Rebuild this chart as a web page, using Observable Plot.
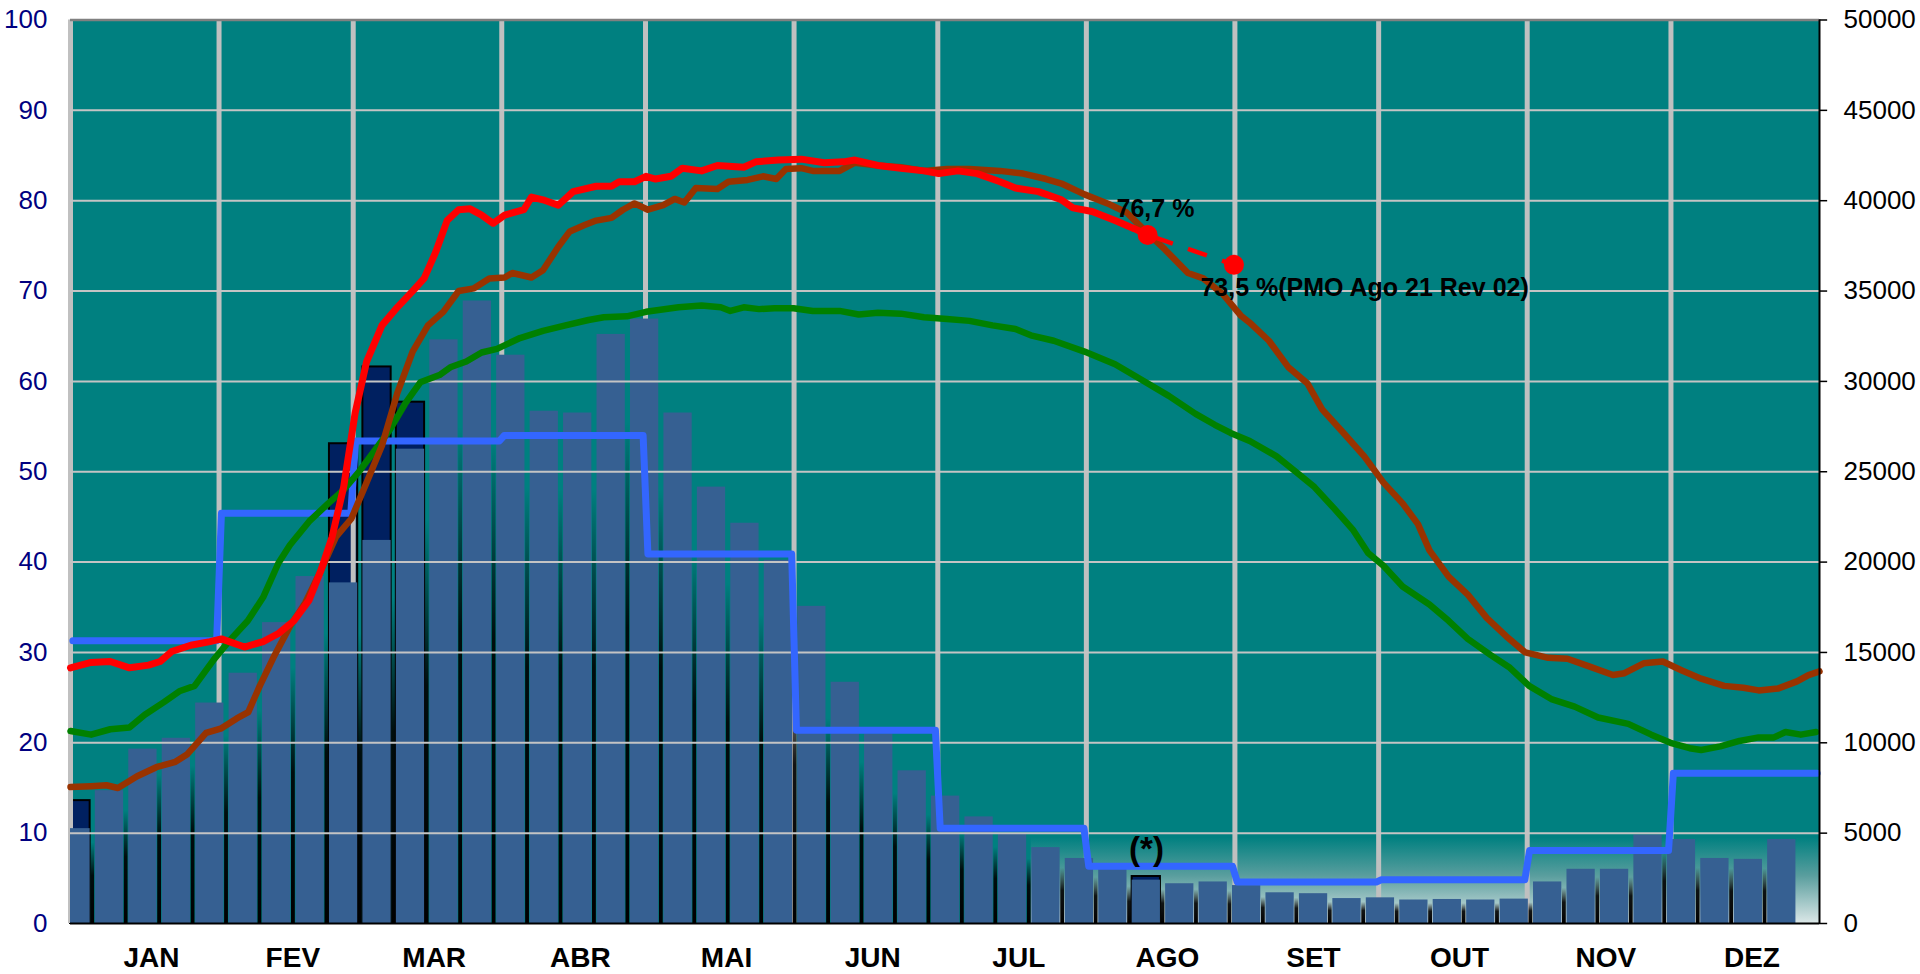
<!DOCTYPE html>
<html>
<head>
<meta charset="utf-8">
<script src="https://cdn.jsdelivr.net/npm/d3@7"></script>
<script src="https://cdn.jsdelivr.net/npm/@observablehq/plot@0.6"></script>
<style>
  html, body { margin: 0; padding: 0; background: #ffffff; }
  #chart svg { display: block; }
</style>
</head>
<body>
<div id="chart"></div>
<script>
// ---------- DATA ----------
const monthNames = ["JAN","FEV","MAR","ABR","MAI","JUN","JUL","AGO","SET","OUT","NOV","DEZ"];
const monthStarts = [0,31,59,90,120,151,181,212,243,273,304,334,365];
const leftTicks = [0,10,20,30,40,50,60,70,80,90,100];
const rightTicks = [0,5000,10000,15000,20000,25000,30000,35000,40000,45000,50000];

// Monthly long-term average inflow (MWmed) - blue step line, right axis
const enaMonthly = [15650,22700,26700,27000,20450,10700,5270,3170,2290,2420,4040,8320];

// Weekly inflow bars (MWmed), right axis
const enaWeekly = [5250,7350,9650,10250,12200,13850,16650,19200,18850,21200,
                   26250,32300,34450,31450,28350,28250,32600,33450,28250,24150,
                   22150,20100,17550,13350,10500,8450,7050,5900,4950,4200,
                   3600,3000,2400,2200,2300,2100,1700,1650,1380,1420,
                   1300,1330,1300,1350,2300,3000,3000,4900,4650,3600,
                   3550,4650];
// Dark (navy) bars visible behind the weekly bars: week index and value (MWmed)
const navyWeeks = [0, 8, 9, 10, 32];
const navyValues = [6800, 26550, 30800, 28850, 2600];

// Storage curves (% EARmax), [day of year, value]
const redSeries = [[0,28.3],[4.3,28.9],[8.3,29.0],[12.3,28.3],[16.3,28.6],[18.7,29.0],[21.1,30.1],[25.1,30.8],
  [29.1,31.2],[31.5,31.5],[36.3,30.6],[40.2,31.2],[43.4,32.1],[46.6,33.5],[49.8,35.8],[52.2,39.0],
  [54.6,42.8],[57.0,48.3],[59.4,56.5],[61.8,62.2],[65.0,66.2],[68.2,68.2],[71.4,70.0],[73.8,71.4],
  [76.2,74.3],[78.6,77.8],[81.0,79.0],[83.4,79.1],[85.8,78.4],[88.2,77.5],[90.6,78.4],[94.6,79.0],
  [96.2,80.4],[98.6,80.1],[101.8,79.5],[104.9,81.0],[109.7,81.6],[112.9,81.6],[114.5,82.1],[117.7,82.1],
  [120.1,82.7],[122.1,82.4],[125.3,82.7],[127.7,83.6],[131.7,83.3],[135,83.9],[140.5,83.7],[143,84.3],
  [147.7,84.5],[152.5,84.6],[157.3,84.2],[161.3,84.3],[163.7,84.5],[168.5,83.9],[173.3,83.6],[178.1,83.3],
  [181.2,83.0],[185.2,83.3],[189.2,83.0],[194,82.1],[197.2,81.4],[202,81.0],[206.8,80.1],[209.2,79.2],
  [213.2,78.8],[218,77.8],[222,76.9],[224.8,76.2]];

const brownSeries = [[0,15.1],[4.3,15.2],[7.5,15.3],[9.9,15.0],[13.9,16.3],[17.9,17.3],[21.9,17.9],[24.3,18.7],
  [28.3,21.1],[31.5,21.6],[34.7,22.7],[37.1,23.4],[39.5,26.3],[42.6,29.7],[45.8,32.9],[49.0,35.5],
  [52.2,39.0],[55.4,42.8],[58.6,44.8],[61.8,48.8],[65.0,52.9],[68.2,58.7],[71.4,63.3],[74.6,66.2],
  [77.8,67.7],[81.0,70.0],[84.2,70.3],[87.4,71.4],[90.6,71.5],[92.2,72.0],[96.2,71.5],[98.6,72.3],
  [101.8,74.9],[104.2,76.6],[107.3,77.3],[109.7,77.8],[112.9,78.1],[115.3,79.0],[117.7,79.7],[120.5,79.0],
  [123.7,79.5],[126.1,80.2],[128.1,79.8],[130.5,81.4],[135,81.3],[137.3,82.1],[141.3,82.3],[144.5,82.7],
  [147.3,82.4],[149.3,83.5],[152.5,83.6],[154.9,83.3],[160.5,83.3],[163.7,84.2],[168.5,83.9],[173.3,83.7],
  [178.1,83.3],[182.9,83.5],[187.6,83.5],[194,83.3],[198.8,83.0],[203.6,82.4],[206.8,81.9],[211.6,80.7],
  [216.4,79.7],[220.4,78.7],[224.4,76.6],[228.4,74.6],[233.2,72.0],[236.4,71.4],[240.4,69.7],[244.2,67.3],
  [246.1,66.5],[250.1,64.5],[254.1,61.6],[258.1,59.8],[261.2,56.9],[266,54.1],[270,51.7],[274,48.8],
  [278,46.5],[281.2,44.2],[283.6,41.3],[287.6,38.4],[291.6,36.4],[295.6,33.8],[299.6,31.8],[303.6,30.0],
  [308.4,29.4],[312.4,29.3],[317.2,28.4],[321.9,27.5],[324.3,27.7],[328.3,28.8],[332.3,29.0],[336.3,28.0],
  [340.3,27.1],[345.1,26.3],[349.1,26.1],[352.3,25.8],[356.3,26.0],[360.3,26.8],[362.7,27.5],[365,27.9]];

const greenSeries = [[0,21.3],[4.3,20.9],[8.3,21.5],[12.3,21.7],[15.5,23.1],[19.5,24.5],[22.7,25.7],[25.9,26.3],
  [29.9,29.2],[33.0,31.2],[37.0,33.5],[40.2,36.1],[43.4,39.9],[45.8,41.9],[49.8,44.5],[53.8,46.5],
  [57.0,48.0],[60.2,50.0],[63.4,52.3],[66.6,54.6],[69.8,57.5],[73.0,59.9],[77.0,60.7],[79.4,61.6],
  [82.6,62.2],[85.8,63.2],[89.0,63.6],[93.8,64.8],[98.6,65.6],[103.3,66.2],[108.1,66.8],[111.3,67.1],
  [116.1,67.2],[120.1,67.7],[126.9,68.2],[131.7,68.4],[135.7,68.2],[137.7,67.8],[140.5,68.2],[143.7,68.0],
  [146.9,68.1],[150.9,68.1],[154.9,67.8],[160.5,67.8],[164.5,67.4],[168.5,67.6],[173.3,67.5],[178.1,67.1],
  [182.9,66.9],[187.6,66.7],[192.4,66.2],[197.2,65.8],[200.4,65.1],[205.2,64.5],[211.6,63.3],[218,61.9],
  [222.8,60.4],[229.2,58.4],[234.8,56.4],[238.8,55.2],[242.1,54.3],[246.1,53.4],[251.7,51.7],[255.7,50.0],
  [259.6,48.3],[263.6,46.0],[267.6,43.6],[270.8,41.0],[274,39.6],[278,37.3],[283.6,35.3],[287.6,33.5],
  [291.6,31.5],[296.4,29.7],[300.4,28.3],[304.4,26.3],[309.2,24.8],[313.9,24.0],[318.8,22.8],[325.1,22.1],
  [329.9,20.9],[333.9,20.0],[337.9,19.4],[340.3,19.2],[344.3,19.6],[348.3,20.2],[352.3,20.6],[355.5,20.6],
  [357.9,21.2],[361.1,20.9],[364.3,21.2]];

// Last verified storage and PMO projection (% EARmax), [day, value]
const pmoPoints = [[224.8, 76.2], [242.8, 72.9]];
const pmoLabels = ["76,7 %", "73,5 %(PMO Ago 21 Rev 02)"];

// ---------- DERIVED ----------
const RATIO = 500;                    // right axis (MWmed) per left-axis unit (%)
const weekCenter = k => 1.15 + 6.98 * k;
const HALF = 2.95;
const weeks = enaWeekly.map((v, k) => ({
  x1: Math.max(0, weekCenter(k) - HALF), x2: weekCenter(k) + HALF, v
}));
const navyBars = navyWeeks.map((k, i) => ({
  x1: Math.max(0, weekCenter(k) - HALF), x2: weekCenter(k) + HALF, v: navyValues[i]
}));
const gaps = enaWeekly.slice(0, -1).map((v, k) => {
  const c = (weekCenter(k) + weekCenter(k + 1)) / 2;
  return {x1: c - 0.4, x2: c + 0.4, v: Math.min(v, enaWeekly[k + 1])};
});
const stepPts = [];
enaMonthly.forEach((v, m) => {
  stepPts.push([monthStarts[m] + 0.5, v]);
  stepPts.push([monthStarts[m + 1] - 0.5, v]);
});

const FONT = "'Liberation Sans', Arial, sans-serif";

const plot = Plot.plot({
  width: 1920,
  height: 974,
  marginLeft: 70,
  marginRight: 101,
  marginTop: 19.5,
  marginBottom: 51,
  x: {domain: [0, 365], axis: null},
  y: {domain: [0, 100], axis: null},
  style: {fontFamily: FONT, background: "#ffffff", overflow: "visible"},
  marks: [
    Plot.frame({fill: "#008080", stroke: null}),
    // light gradient band at the bottom (second half of year)
    Plot.rect([{a: 200.5, b: 365, t: 9.5}], {x1: "a", x2: "b", y1: 0, y2: "t", fill: "url(#lowGrad)"}),
    // navy bars behind
    Plot.rect(navyBars, {x1: "x1", x2: "x2", y1: 0, y2: d => d.v / RATIO, fill: "#002060", stroke: "#000000", strokeWidth: 2}),
    // vertical month gridlines
    Plot.ruleX(monthStarts.slice(0, 12), {stroke: "#c0c0c0", strokeWidth: 5}),
    // weekly bars
    Plot.rect(weeks, {x1: "x1", x2: "x2", y1: 0, y2: d => d.v / RATIO, fill: "#366092"}),
    // dark wedges between bars
    Plot.rect(gaps, {x1: "x1", x2: "x2", y1: 0, y2: d => d.v / RATIO, fill: "url(#gapGrad)"}),
    // horizontal gridlines
    Plot.ruleY(leftTicks.slice(1, 10), {stroke: "#c4c4c4", strokeWidth: 2}),
    Plot.ruleY([100], {stroke: "#808080", strokeWidth: 2.5}),
    // blue monthly step line
    Plot.line(stepPts, {x: d => d[0], y: d => d[1] / RATIO, stroke: "#3366ff", strokeWidth: 7}),
    // storage curves
    Plot.line(greenSeries, {x: d => d[0], y: d => d[1], stroke: "#008000", strokeWidth: 6.5}),
    Plot.line(brownSeries, {x: d => d[0], y: d => d[1], stroke: "#993300", strokeWidth: 6.5}),
    Plot.line(redSeries, {x: d => d[0], y: d => d[1], stroke: "#ff0000", strokeWidth: 7}),
    Plot.line(pmoPoints, {x: d => d[0], y: d => d[1], stroke: "#ff0000", strokeWidth: 4.5,
      strokeDasharray: "20 16", strokeDashoffset: 29.4, strokeLinecap: "butt"}),
    Plot.dot(pmoPoints, {x: d => d[0], y: d => d[1], r: 10, fill: "#ff0000", stroke: null}),
    // axes lines
    Plot.ruleY([0], {stroke: "#000000", strokeWidth: 2}),
    Plot.ruleX([365], {stroke: "#000000", strokeWidth: 2}),
    Plot.ruleY(rightTicks, {y: d => d / RATIO, x1: 365, x2: 366.7, stroke: "#000000", strokeWidth: 1.5}),
    // axis labels
    Plot.text(leftTicks, {x: 0, y: d => d, text: d => String(d), textAnchor: "end", dx: -23,
      fontSize: 26, fill: "#000080"}),
    Plot.text(rightTicks, {x: 365, y: d => d / RATIO, text: d => String(d), textAnchor: "start", dx: 24,
      fontSize: 26, fill: "#000000"}),
    Plot.text(monthNames, {x: (d, i) => (monthStarts[i] + monthStarts[i + 1]) / 2 + 1.4, y: 0, dy: 35,
      text: d => d, fontSize: 28, fontWeight: "bold", fill: "#000000"}),
    // annotations
    Plot.text([pmoLabels[0]], {x: 218.3, y: 79.1, text: d => d, textAnchor: "start",
      fontSize: 25, fontWeight: "bold", fill: "#000000"}),
    Plot.text([pmoLabels[1]], {x: 235.8, y: 70.3, text: d => d, textAnchor: "start",
      fontSize: 25, fontWeight: "bold", fill: "#000000"}),
    Plot.text(["(*)"], {x: 224.55, y: 8.2, text: d => d, textAnchor: "middle",
      fontSize: 33, fontWeight: "bold", fill: "#000000"})
  ]
});

// gradient definitions
const svg = d3.select(plot);
const defs = svg.insert("defs", ":first-child");
const lg = defs.append("linearGradient").attr("id", "lowGrad")
  .attr("x1", 0).attr("y1", 0).attr("x2", 0).attr("y2", 1);
lg.append("stop").attr("offset", "0%").attr("stop-color", "#008080");
lg.append("stop").attr("offset", "45%").attr("stop-color", "#5a9e9e");
lg.append("stop").attr("offset", "100%").attr("stop-color", "#dbe7e7");
const gg = defs.append("linearGradient").attr("id", "gapGrad")
  .attr("x1", 0).attr("y1", 1).attr("x2", 0).attr("y2", 0);
gg.append("stop").attr("offset", "0%").attr("stop-color", "#000000").attr("stop-opacity", 1);
gg.append("stop").attr("offset", "50%").attr("stop-color", "#000000").attr("stop-opacity", 0.9);
gg.append("stop").attr("offset", "85%").attr("stop-color", "#000000").attr("stop-opacity", 0);

document.getElementById("chart").appendChild(plot);
</script>
</body>
</html>
